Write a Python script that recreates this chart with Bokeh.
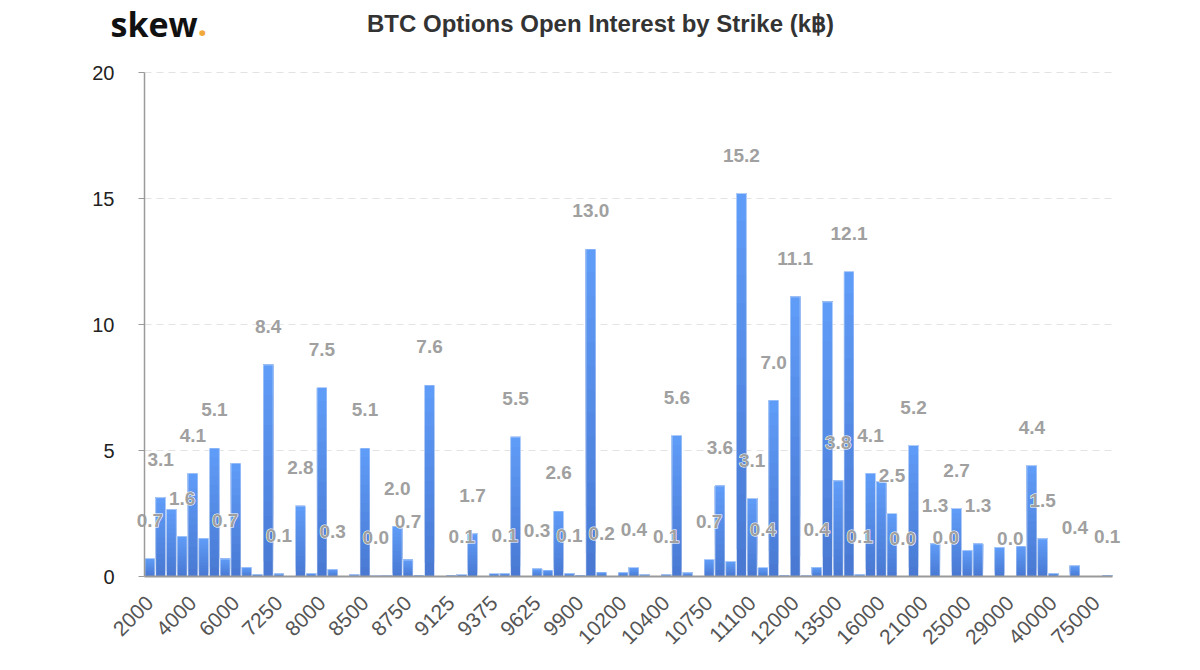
import math

from bokeh.core.properties import value
from bokeh.embed import file_html
from bokeh.models import CDSView, ColumnDataSource, FixedTicker, IndexFilter, Range1d
from bokeh.plotting import figure
from bokeh.resources import INLINE

# Strike prices (USD) and open interest per strike (thousand BTC)
strikes = [
    2000, 2500, 3000, 3500, 4000, 4500, 5000, 5500, 6000, 6500,
    6750, 7000, 7250, 7500, 7750, 7875, 8000, 8125, 8250, 8375,
    8500, 8600, 8625, 8700, 8750, 8875, 9000, 9100, 9125, 9200,
    9250, 9300, 9375, 9400, 9500, 9600, 9625, 9700, 9750, 9800,
    9900, 10000, 10100, 10125, 10200, 10250, 10300, 10375, 10400, 10500,
    10600, 10625, 10750, 10800, 10875, 11000, 11100, 11250, 11500, 11750,
    12000, 12250, 12500, 13000, 13500, 14000, 14500, 15000, 16000, 17000,
    18000, 20000, 21000, 22000, 23000, 24000, 25000, 26000, 27000, 28000,
    29000, 30000, 32000, 35000, 40000, 45000, 50000, 60000, 75000, 100000,
]
open_interest = [
    0.72, 3.13, 2.67, 1.60, 4.10, 1.52, 5.10, 0.70, 4.50, 0.37,
    0.09, 8.40, 0.11, 0.02, 2.80, 0.13, 7.50, 0.29, 0.01, 0.07,
    5.10, 0.04, 0.03, 2.00, 0.66, 0.06, 7.60, 0.00, 0.06, 0.08,
    1.70, 0.00, 0.12, 0.13, 5.54, 0.02, 0.31, 0.26, 2.60, 0.13,
    0.06, 13.00, 0.18, 0.01, 0.17, 0.36, 0.07, 0.02, 0.07, 5.60,
    0.15, 0.02, 0.68, 3.60, 0.60, 15.20, 3.10, 0.36, 7.00, 0.06,
    11.10, 0.03, 0.37, 10.90, 3.80, 12.10, 0.07, 4.10, 3.77, 2.50,
    0.01, 5.20, 0.00, 1.30, 0.02, 2.70, 1.04, 1.30, 0.00, 1.16,
    0.01, 1.21, 4.40, 1.50, 0.13, 0.02, 0.43, 0.01, 0.00, 0.06,
]
y_ticks = [0, 5, 10, 15, 20]
label_every = 4
chart_title = "BTC Options Open Interest by Strike (k\u0e3f)"
brand = "skew"

# ---- page geometry (pixels)
W, H = 1200, 670
BORDER_LEFT, BORDER_BOTTOM = 80, 80          # frame spans x 80..1200, y 0..590
AXIS_X0, AXIS_X1 = 144, 1112                 # where the category band starts / ends
AXIS_Y0, AXIS_Y1 = 576, 72                   # pixel rows of value 0 and of the top tick
n = len(strikes)
Y_MAX = y_ticks[-1]

px_x = (AXIS_X1 - AXIS_X0) / n               # pixels per category
px_y = (AXIS_Y0 - AXIS_Y1) / Y_MAX           # pixels per unit of open interest
x_lo = -0.5 - (AXIS_X0 - BORDER_LEFT) / px_x
x_hi = n - 0.5 + (W - AXIS_X1) / px_x
y_lo = -((H - BORDER_BOTTOM) - AXIS_Y0) / px_y
y_hi = Y_MAX + AXIS_Y1 / px_y


def page_x(px):
    return -0.5 + (px - AXIS_X0) / px_x


def page_y(py):
    return (AXIS_Y0 - py) / px_y


p = figure(
    width=W, height=H, title=None,
    output_backend="svg", toolbar_location=None,
    x_range=Range1d(x_lo, x_hi), y_range=Range1d(y_lo, y_hi),
    min_border_left=BORDER_LEFT, min_border_right=0,
    min_border_top=0, min_border_bottom=BORDER_BOTTOM,
)
p.outline_line_color = None
p.xgrid.visible = False
p.ygrid.visible = False

# ---- dashed value grid, behind the bars
grid_levels = y_ticks[1:]
p.segment(x0=[-0.5] * len(grid_levels), x1=[n - 0.5] * len(grid_levels),
          y0=grid_levels, y1=grid_levels,
          line_color="#e3e3e3", line_width=1, line_dash="7 5")

# ---- bars with a vertical gradient (darker at the base, lighter at the top)
top_rgb = (96, 157, 248)
base_rgb = (72, 120, 210)
STEPS = 14
bx, bb, bt, bc = [], [], [], []
for i, v in enumerate(open_interest):
    if v <= 0:
        continue
    for k in range(STEPS):
        t = (k + 0.5) / STEPS
        rgb = tuple(round(b + (c - b) * t) for b, c in zip(base_rgb, top_rgb))
        bx.append(i)
        bb.append(v * k / STEPS)
        bt.append(v)
        bc.append("#%02x%02x%02x" % rgb)
BAR_W = 0.93
p.vbar(x=bx, bottom=bb, top=bt, width=BAR_W, fill_color=bc, line_color=None)
p.vbar(x=list(range(n)), top=open_interest, width=BAR_W, fill_color=None,
       line_color="white", line_alpha=0.55, line_width=1)

# category baseline at zero
p.segment(x0=[-0.5], x1=[n - 0.5], y0=[0], y1=[0], line_color="#9a9a9a", line_width=2)

# ---- value labels, hiding those that collide with a label of a larger bar
FONT_PX = 19
LABEL_LIFT = 38
texts = [f"{v:.1f}" for v in open_interest]


def text_width(s):
    return sum(0.278 if ch == "." else 0.556 for ch in s) * FONT_PX


placed, shown = [], []
for i in sorted(range(n), key=lambda j: -open_interest[j]):
    cx = (i + 0.5) * px_x
    cy = open_interest[i] * px_y + LABEL_LIFT
    w, h = text_width(texts[i]), FONT_PX
    if any(abs(cx - qx) < (w + qw) / 2 and abs(cy - qy) < (h + qh) / 2
           for qx, qy, qw, qh in placed):
        continue
    placed.append((cx, cy, w, h))
    shown.append(i)

src = ColumnDataSource(dict(x=list(range(n)), y=open_interest, text=texts))
label_view = CDSView(filter=IndexFilter(sorted(shown)))
label_style = dict(text_font=value("Liberation Sans"), text_font_style="bold",
                   text_font_size=f"{FONT_PX}px", text_align="center",
                   text_baseline="middle", y_offset=-LABEL_LIFT)
# white halo under each label so it stays readable over a bar
p.text(x="x", y="y", text="text", source=src, view=label_view,
       text_color="white", text_outline_color="white", **label_style)
p.text(x="x", y="y", text="text", source=src, view=label_view,
       text_color="#a0a0a0", **label_style)

# ---- heading and brand mark
p.text(x=[page_x(600)], y=[page_y(23)], text=[chart_title],
       text_font=value("Liberation Sans"), text_font_style="bold",
       text_font_size="24px", text_color="#333333",
       text_align="center", text_baseline="middle")
p.text(x=[page_x(110)], y=[page_y(23)], text=[brand],
       text_font=value("Open Sans"), text_font_style="bold",
       text_font_size="34px", text_color="#111111",
       text_align="left", text_baseline="alphabetic")
p.text(x=[page_x(197)], y=[page_y(23)], text=["."],
       text_font=value("Open Sans"), text_font_style="bold",
       text_font_size="34px", text_color="#f2a93b",
       text_align="left", text_baseline="alphabetic")

# ---- axes
xa = p.xaxis[0]
xa.ticker = FixedTicker(ticks=list(range(0, n, label_every)))
xa.major_label_overrides = {i: str(strikes[i]) for i in range(0, n, label_every)}
xa.major_label_orientation = math.pi / 4
xa.axis_line_color = None
xa.major_tick_line_color = None
xa.minor_tick_line_color = None
xa.major_label_text_font = "Liberation Sans"
xa.major_label_text_font_size = "21px"
xa.major_label_text_color = "#555555"
xa.major_label_standoff = 3

ya = p.yaxis[0]
ya.fixed_location = -0.5
ya.bounds = (0, Y_MAX)
ya.ticker = FixedTicker(ticks=y_ticks)
ya.axis_line_color = "#9a9a9a"
ya.axis_line_width = 1.5
ya.major_tick_line_color = "#9a9a9a"
ya.major_tick_out = 6
ya.major_tick_in = 0
ya.minor_tick_line_color = None
ya.major_label_standoff = 24
ya.major_label_text_font = "Liberation Sans"
ya.major_label_text_font_size = "20px"
ya.major_label_text_color = "#222222"

open("out.html", "w").write(file_html(p, INLINE))
